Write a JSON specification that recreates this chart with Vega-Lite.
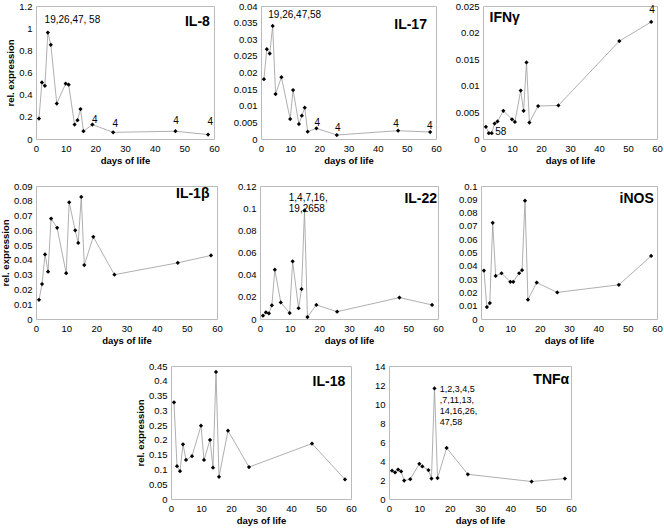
{
  "$schema": "https://vega.github.io/schema/vega-lite/v6.json",
  "background": "white",
  "padding": {"left": 0, "top": 0, "right": 2, "bottom": 2},
  "config": {
    "font": "Liberation Sans",
    "view": {"stroke": "#bbbbbb", "strokeWidth": 1},
    "axis": {"grid": false, "ticks": false, "domain": false, "labelFont": "Liberation Sans", "labelFontSize": 9.5, "labelColor": "black", "labelPadding": 4, "titleFont": "Liberation Sans", "titleFontSize": 9.5, "titleFontWeight": "bold", "titleColor": "black", "titlePadding": 3, "labelFlush": false, "labelOverlap": false}
  },
  "datasets": {
    "expr": [
      {"gene": "IL-8", "day": 1, "value": 0.184}, {"gene": "IL-8", "day": 2, "value": 0.51}, {"gene": "IL-8", "day": 3, "value": 0.48}, {"gene": "IL-8", "day": 4, "value": 0.96}, {"gene": "IL-8", "day": 5, "value": 0.85}, {"gene": "IL-8", "day": 7, "value": 0.32}, {"gene": "IL-8", "day": 10, "value": 0.5}, {"gene": "IL-8", "day": 11, "value": 0.49}, {"gene": "IL-8", "day": 13, "value": 0.13}, {"gene": "IL-8", "day": 14, "value": 0.17}, {"gene": "IL-8", "day": 15, "value": 0.27}, {"gene": "IL-8", "day": 16, "value": 0.07}, {"gene": "IL-8", "day": 19, "value": 0.13}, {"gene": "IL-8", "day": 26, "value": 0.06}, {"gene": "IL-8", "day": 47, "value": 0.07}, {"gene": "IL-8", "day": 58, "value": 0.04},
      {"gene": "IL-17", "day": 1, "value": 0.018}, {"gene": "IL-17", "day": 2, "value": 0.027}, {"gene": "IL-17", "day": 3, "value": 0.0257}, {"gene": "IL-17", "day": 4, "value": 0.034}, {"gene": "IL-17", "day": 5, "value": 0.0135}, {"gene": "IL-17", "day": 7, "value": 0.0186}, {"gene": "IL-17", "day": 10, "value": 0.006}, {"gene": "IL-17", "day": 11, "value": 0.0147}, {"gene": "IL-17", "day": 13, "value": 0.0045}, {"gene": "IL-17", "day": 14, "value": 0.007}, {"gene": "IL-17", "day": 15, "value": 0.0094}, {"gene": "IL-17", "day": 16, "value": 0.0022}, {"gene": "IL-17", "day": 19, "value": 0.0032}, {"gene": "IL-17", "day": 26, "value": 0.0012}, {"gene": "IL-17", "day": 47, "value": 0.0025}, {"gene": "IL-17", "day": 58, "value": 0.0021},
      {"gene": "IFNγ", "day": 1, "value": 0.0023}, {"gene": "IFNγ", "day": 2, "value": 0.0011}, {"gene": "IFNγ", "day": 3, "value": 0.0011}, {"gene": "IFNγ", "day": 4, "value": 0.0029}, {"gene": "IFNγ", "day": 5, "value": 0.0033}, {"gene": "IFNγ", "day": 7, "value": 0.0053}, {"gene": "IFNγ", "day": 10, "value": 0.0037}, {"gene": "IFNγ", "day": 11, "value": 0.0032}, {"gene": "IFNγ", "day": 13, "value": 0.0091}, {"gene": "IFNγ", "day": 14, "value": 0.0053}, {"gene": "IFNγ", "day": 15, "value": 0.0144}, {"gene": "IFNγ", "day": 16, "value": 0.0031}, {"gene": "IFNγ", "day": 19, "value": 0.0062}, {"gene": "IFNγ", "day": 26, "value": 0.0063}, {"gene": "IFNγ", "day": 47, "value": 0.0184}, {"gene": "IFNγ", "day": 58, "value": 0.022},
      {"gene": "IL-1β", "day": 1, "value": 0.013}, {"gene": "IL-1β", "day": 2, "value": 0.0236}, {"gene": "IL-1β", "day": 3, "value": 0.0437}, {"gene": "IL-1β", "day": 4, "value": 0.032}, {"gene": "IL-1β", "day": 5, "value": 0.068}, {"gene": "IL-1β", "day": 7, "value": 0.0617}, {"gene": "IL-1β", "day": 10, "value": 0.031}, {"gene": "IL-1β", "day": 11, "value": 0.079}, {"gene": "IL-1β", "day": 13, "value": 0.06}, {"gene": "IL-1β", "day": 14, "value": 0.0515}, {"gene": "IL-1β", "day": 15, "value": 0.0826}, {"gene": "IL-1β", "day": 16, "value": 0.0365}, {"gene": "IL-1β", "day": 19, "value": 0.0556}, {"gene": "IL-1β", "day": 26, "value": 0.03}, {"gene": "IL-1β", "day": 47, "value": 0.038}, {"gene": "IL-1β", "day": 58, "value": 0.043},
      {"gene": "IL-22", "day": 1, "value": 0.003}, {"gene": "IL-22", "day": 2, "value": 0.006}, {"gene": "IL-22", "day": 3, "value": 0.005}, {"gene": "IL-22", "day": 4, "value": 0.0124}, {"gene": "IL-22", "day": 5, "value": 0.0445}, {"gene": "IL-22", "day": 7, "value": 0.015}, {"gene": "IL-22", "day": 10, "value": 0.0054}, {"gene": "IL-22", "day": 11, "value": 0.052}, {"gene": "IL-22", "day": 13, "value": 0.0097}, {"gene": "IL-22", "day": 14, "value": 0.027}, {"gene": "IL-22", "day": 15, "value": 0.098}, {"gene": "IL-22", "day": 16, "value": 0.0018}, {"gene": "IL-22", "day": 19, "value": 0.0127}, {"gene": "IL-22", "day": 26, "value": 0.0066}, {"gene": "IL-22", "day": 47, "value": 0.0193}, {"gene": "IL-22", "day": 58, "value": 0.0127},
      {"gene": "iNOS", "day": 1, "value": 0.0364}, {"gene": "iNOS", "day": 2, "value": 0.009}, {"gene": "iNOS", "day": 3, "value": 0.012}, {"gene": "iNOS", "day": 4, "value": 0.0723}, {"gene": "iNOS", "day": 5, "value": 0.0324}, {"gene": "iNOS", "day": 7, "value": 0.0344}, {"gene": "iNOS", "day": 10, "value": 0.028}, {"gene": "iNOS", "day": 11, "value": 0.028}, {"gene": "iNOS", "day": 13, "value": 0.0344}, {"gene": "iNOS", "day": 14, "value": 0.0367}, {"gene": "iNOS", "day": 15, "value": 0.089}, {"gene": "iNOS", "day": 16, "value": 0.0145}, {"gene": "iNOS", "day": 19, "value": 0.0274}, {"gene": "iNOS", "day": 26, "value": 0.02}, {"gene": "iNOS", "day": 47, "value": 0.0257}, {"gene": "iNOS", "day": 58, "value": 0.0474},
      {"gene": "IL-18", "day": 1, "value": 0.327}, {"gene": "IL-18", "day": 2, "value": 0.111}, {"gene": "IL-18", "day": 3, "value": 0.094}, {"gene": "IL-18", "day": 4, "value": 0.185}, {"gene": "IL-18", "day": 5, "value": 0.132}, {"gene": "IL-18", "day": 7, "value": 0.145}, {"gene": "IL-18", "day": 10, "value": 0.248}, {"gene": "IL-18", "day": 11, "value": 0.132}, {"gene": "IL-18", "day": 13, "value": 0.2}, {"gene": "IL-18", "day": 14, "value": 0.106}, {"gene": "IL-18", "day": 15, "value": 0.43}, {"gene": "IL-18", "day": 16, "value": 0.075}, {"gene": "IL-18", "day": 19, "value": 0.231}, {"gene": "IL-18", "day": 26, "value": 0.108}, {"gene": "IL-18", "day": 47, "value": 0.1875}, {"gene": "IL-18", "day": 58, "value": 0.066},
      {"gene": "TNFα", "day": 1, "value": 2.98}, {"gene": "TNFα", "day": 2, "value": 2.8}, {"gene": "TNFα", "day": 3, "value": 3.1}, {"gene": "TNFα", "day": 4, "value": 2.9}, {"gene": "TNFα", "day": 5, "value": 1.94}, {"gene": "TNFα", "day": 7, "value": 2.08}, {"gene": "TNFα", "day": 10, "value": 3.7}, {"gene": "TNFα", "day": 11, "value": 3.43}, {"gene": "TNFα", "day": 13, "value": 3.05}, {"gene": "TNFα", "day": 14, "value": 2.15}, {"gene": "TNFα", "day": 15, "value": 11.64}, {"gene": "TNFα", "day": 16, "value": 2.2}, {"gene": "TNFα", "day": 19, "value": 5.37}, {"gene": "TNFα", "day": 26, "value": 2.6}, {"gene": "TNFα", "day": 47, "value": 1.84}, {"gene": "TNFα", "day": 58, "value": 2.15}
    ],
    "notes": [
      {"gene": "IL-8", "day": 2.9, "value": 1.07, "text": "19,26,47, 58"},
      {"gene": "IL-8", "day": 18.9, "value": 0.175, "text": "4"},
      {"gene": "IL-8", "day": 25.8, "value": 0.136, "text": "4"},
      {"gene": "IL-8", "day": 46.3, "value": 0.16, "text": "4"},
      {"gene": "IL-8", "day": 57.8, "value": 0.154, "text": "4"},
      {"gene": "IL-17", "day": 2.5, "value": 0.0372, "text": "19,26,47,58"},
      {"gene": "IL-17", "day": 18.3, "value": 0.0049, "text": "4"},
      {"gene": "IL-17", "day": 25.4, "value": 0.0033, "text": "4"},
      {"gene": "IL-17", "day": 45.3, "value": 0.0046, "text": "4"},
      {"gene": "IL-17", "day": 56.9, "value": 0.004, "text": "4"},
      {"gene": "IFNγ", "day": 4.2, "value": 0.0014, "text": "58"},
      {"gene": "IFNγ", "day": 57.3, "value": 0.0242, "text": "4"},
      {"gene": "IL-22", "day": 9.7, "value": 0.109, "text": "1,4,7,16,\n19,2658"},
      {"gene": "TNFα", "day": 16.7, "value": 11.59, "text": "1,2,3,4,5\n,7,11,13,\n14,16,26,\n47,58"}
    ],
    "labels": [
      {"gene": "IL-8", "day": 58.6, "value": 1.06, "text": "IL-8"},
      {"gene": "IL-17", "day": 56.9, "value": 0.0344, "text": "IL-17"},
      {"gene": "IFNγ", "day": 12.7, "value": 0.0228, "text": "IFNγ"},
      {"gene": "IL-1β", "day": 57.5, "value": 0.0844, "text": "IL-1β"},
      {"gene": "IL-22", "day": 59.7, "value": 0.108, "text": "IL-22"},
      {"gene": "iNOS", "day": 58.9, "value": 0.0905, "text": "iNOS"},
      {"gene": "IL-18", "day": 58.1, "value": 0.395, "text": "IL-18"},
      {"gene": "TNFα", "day": 59.4, "value": 12.5, "text": "TNFα"}
    ]
  },
  "spacing": 14,
  "resolve": {"scale": {"x": "independent", "y": "independent"}},
  "vconcat": [
    {
      "bounds": "flush",
      "spacing": 47,
      "resolve": {"scale": {"x": "independent", "y": "independent"}},
      "hconcat": [
        {
          "width": 178, "height": 133,
          "encoding": {
            "x": {"field": "day", "type": "quantitative", "scale": {"domain": [0, 60]}, "axis": {"values": [0, 10, 20, 30, 40, 50, 60], "title": "days of life"}},
            "y": {"field": "value", "type": "quantitative", "scale": {"domain": [0, 1.2]}, "axis": {"values": [0, 0.2, 0.4, 0.6, 0.8, 1, 1.2], "format": "~f", "title": "rel. expression"}}
          },
          "layer": [
            {"data": {"name": "expr"}, "transform": [{"filter": "datum.gene === 'IL-8'"}], "mark": {"type": "line", "color": "#9a9a9a", "strokeWidth": 0.8}},
            {"data": {"name": "expr"}, "transform": [{"filter": "datum.gene === 'IL-8'"}], "mark": {"type": "point", "shape": "diamond", "filled": true, "color": "black", "size": 18, "opacity": 1}},
            {"data": {"name": "notes"}, "transform": [{"filter": "datum.gene === 'IL-8'"}], "mark": {"type": "text", "align": "left", "baseline": "middle", "fontSize": 10, "lineBreak": "\n", "lineHeight": 11, "color": "black"}, "encoding": {"text": {"field": "text"}}},
            {"data": {"name": "labels"}, "transform": [{"filter": "datum.gene === 'IL-8'"}], "mark": {"type": "text", "align": "right", "baseline": "middle", "fontSize": 14, "fontWeight": "bold", "color": "black"}, "encoding": {"text": {"field": "text"}}}
          ]
        },
        {
          "width": 175, "height": 133,
          "encoding": {
            "x": {"field": "day", "type": "quantitative", "scale": {"domain": [0, 60]}, "axis": {"values": [0, 10, 20, 30, 40, 50, 60], "title": "days of life"}},
            "y": {"field": "value", "type": "quantitative", "scale": {"domain": [0, 0.04]}, "axis": {"values": [0, 0.005, 0.01, 0.015, 0.02, 0.025, 0.03, 0.035, 0.04], "format": "~f", "title": null}}
          },
          "layer": [
            {"data": {"name": "expr"}, "transform": [{"filter": "datum.gene === 'IL-17'"}], "mark": {"type": "line", "color": "#9a9a9a", "strokeWidth": 0.8}},
            {"data": {"name": "expr"}, "transform": [{"filter": "datum.gene === 'IL-17'"}], "mark": {"type": "point", "shape": "diamond", "filled": true, "color": "black", "size": 18, "opacity": 1}},
            {"data": {"name": "notes"}, "transform": [{"filter": "datum.gene === 'IL-17'"}], "mark": {"type": "text", "align": "left", "baseline": "middle", "fontSize": 10, "lineBreak": "\n", "lineHeight": 11, "color": "black"}, "encoding": {"text": {"field": "text"}}},
            {"data": {"name": "labels"}, "transform": [{"filter": "datum.gene === 'IL-17'"}], "mark": {"type": "text", "align": "right", "baseline": "middle", "fontSize": 14, "fontWeight": "bold", "color": "black"}, "encoding": {"text": {"field": "text"}}}
          ]
        },
        {
          "width": 174, "height": 133,
          "encoding": {
            "x": {"field": "day", "type": "quantitative", "scale": {"domain": [0, 60]}, "axis": {"values": [0, 10, 20, 30, 40, 50, 60], "title": "days of life"}},
            "y": {"field": "value", "type": "quantitative", "scale": {"domain": [0, 0.025]}, "axis": {"values": [0, 0.005, 0.01, 0.015, 0.02, 0.025], "format": "~f", "title": null}}
          },
          "layer": [
            {"data": {"name": "expr"}, "transform": [{"filter": "datum.gene === 'IFNγ'"}], "mark": {"type": "line", "color": "#9a9a9a", "strokeWidth": 0.8}},
            {"data": {"name": "expr"}, "transform": [{"filter": "datum.gene === 'IFNγ'"}], "mark": {"type": "point", "shape": "diamond", "filled": true, "color": "black", "size": 18, "opacity": 1}},
            {"data": {"name": "notes"}, "transform": [{"filter": "datum.gene === 'IFNγ'"}], "mark": {"type": "text", "align": "left", "baseline": "middle", "fontSize": 10, "lineBreak": "\n", "lineHeight": 11, "color": "black"}, "encoding": {"text": {"field": "text"}}},
            {"data": {"name": "labels"}, "transform": [{"filter": "datum.gene === 'IFNγ'"}], "mark": {"type": "text", "align": "right", "baseline": "middle", "fontSize": 14, "fontWeight": "bold", "color": "black"}, "encoding": {"text": {"field": "text"}}}
          ]
        }
      ]
    },
    {
      "bounds": "flush",
      "spacing": 43,
      "resolve": {"scale": {"x": "independent", "y": "independent"}},
      "hconcat": [
        {
          "width": 181, "height": 133,
          "encoding": {
            "x": {"field": "day", "type": "quantitative", "scale": {"domain": [0, 60]}, "axis": {"values": [0, 10, 20, 30, 40, 50, 60], "title": "days of life"}},
            "y": {"field": "value", "type": "quantitative", "scale": {"domain": [0, 0.09]}, "axis": {"values": [0, 0.01, 0.02, 0.03, 0.04, 0.05, 0.06, 0.07, 0.08, 0.09], "format": "~f", "title": "rel. expression"}}
          },
          "layer": [
            {"data": {"name": "expr"}, "transform": [{"filter": "datum.gene === 'IL-1β'"}], "mark": {"type": "line", "color": "#9a9a9a", "strokeWidth": 0.8}},
            {"data": {"name": "expr"}, "transform": [{"filter": "datum.gene === 'IL-1β'"}], "mark": {"type": "point", "shape": "diamond", "filled": true, "color": "black", "size": 18, "opacity": 1}},
            {"data": {"name": "labels"}, "transform": [{"filter": "datum.gene === 'IL-1β'"}], "mark": {"type": "text", "align": "right", "baseline": "middle", "fontSize": 14, "fontWeight": "bold", "color": "black"}, "encoding": {"text": {"field": "text"}}}
          ]
        },
        {
          "width": 178, "height": 133,
          "encoding": {
            "x": {"field": "day", "type": "quantitative", "scale": {"domain": [0, 60]}, "axis": {"values": [0, 10, 20, 30, 40, 50, 60], "title": "days of life"}},
            "y": {"field": "value", "type": "quantitative", "scale": {"domain": [0, 0.12]}, "axis": {"values": [0, 0.02, 0.04, 0.06, 0.08, 0.1, 0.12], "format": "~f", "title": null}}
          },
          "layer": [
            {"data": {"name": "expr"}, "transform": [{"filter": "datum.gene === 'IL-22'"}], "mark": {"type": "line", "color": "#9a9a9a", "strokeWidth": 0.8}},
            {"data": {"name": "expr"}, "transform": [{"filter": "datum.gene === 'IL-22'"}], "mark": {"type": "point", "shape": "diamond", "filled": true, "color": "black", "size": 18, "opacity": 1}},
            {"data": {"name": "notes"}, "transform": [{"filter": "datum.gene === 'IL-22'"}], "mark": {"type": "text", "align": "left", "baseline": "middle", "fontSize": 10, "lineBreak": "\n", "lineHeight": 11, "color": "black"}, "encoding": {"text": {"field": "text"}}},
            {"data": {"name": "labels"}, "transform": [{"filter": "datum.gene === 'IL-22'"}], "mark": {"type": "text", "align": "right", "baseline": "middle", "fontSize": 14, "fontWeight": "bold", "color": "black"}, "encoding": {"text": {"field": "text"}}}
          ]
        },
        {
          "width": 176, "height": 133,
          "encoding": {
            "x": {"field": "day", "type": "quantitative", "scale": {"domain": [0, 60]}, "axis": {"values": [0, 10, 20, 30, 40, 50, 60], "title": "days of life"}},
            "y": {"field": "value", "type": "quantitative", "scale": {"domain": [0, 0.1]}, "axis": {"values": [0, 0.01, 0.02, 0.03, 0.04, 0.05, 0.06, 0.07, 0.08, 0.09, 0.1], "format": "~f", "title": null}}
          },
          "layer": [
            {"data": {"name": "expr"}, "transform": [{"filter": "datum.gene === 'iNOS'"}], "mark": {"type": "line", "color": "#9a9a9a", "strokeWidth": 0.8}},
            {"data": {"name": "expr"}, "transform": [{"filter": "datum.gene === 'iNOS'"}], "mark": {"type": "point", "shape": "diamond", "filled": true, "color": "black", "size": 18, "opacity": 1}},
            {"data": {"name": "labels"}, "transform": [{"filter": "datum.gene === 'iNOS'"}], "mark": {"type": "text", "align": "right", "baseline": "middle", "fontSize": 14, "fontWeight": "bold", "color": "black"}, "encoding": {"text": {"field": "text"}}}
          ]
        }
      ]
    },
    {
      "bounds": "flush",
      "spacing": 38,
      "resolve": {"scale": {"x": "independent", "y": "independent"}},
      "hconcat": [
        {
          "width": 97, "height": 133,
          "view": {"stroke": null},
          "data": {"values": [{}]},
          "mark": {"type": "point", "opacity": 0, "size": 0}
        },
        {
          "width": 180, "height": 133,
          "encoding": {
            "x": {"field": "day", "type": "quantitative", "scale": {"domain": [0, 60]}, "axis": {"values": [0, 10, 20, 30, 40, 50, 60], "title": "days of life"}},
            "y": {"field": "value", "type": "quantitative", "scale": {"domain": [0, 0.45]}, "axis": {"values": [0, 0.05, 0.1, 0.15, 0.2, 0.25, 0.3, 0.35, 0.4, 0.45], "format": "~f", "title": "rel. expression"}}
          },
          "layer": [
            {"data": {"name": "expr"}, "transform": [{"filter": "datum.gene === 'IL-18'"}], "mark": {"type": "line", "color": "#9a9a9a", "strokeWidth": 0.8}},
            {"data": {"name": "expr"}, "transform": [{"filter": "datum.gene === 'IL-18'"}], "mark": {"type": "point", "shape": "diamond", "filled": true, "color": "black", "size": 18, "opacity": 1}},
            {"data": {"name": "labels"}, "transform": [{"filter": "datum.gene === 'IL-18'"}], "mark": {"type": "text", "align": "right", "baseline": "middle", "fontSize": 14, "fontWeight": "bold", "color": "black"}, "encoding": {"text": {"field": "text"}}}
          ]
        },
        {
          "width": 182, "height": 133,
          "encoding": {
            "x": {"field": "day", "type": "quantitative", "scale": {"domain": [0, 60]}, "axis": {"values": [0, 10, 20, 30, 40, 50, 60], "title": "days of life"}},
            "y": {"field": "value", "type": "quantitative", "scale": {"domain": [0, 14]}, "axis": {"values": [0, 2, 4, 6, 8, 10, 12, 14], "format": "~f", "title": null}}
          },
          "layer": [
            {"data": {"name": "expr"}, "transform": [{"filter": "datum.gene === 'TNFα'"}], "mark": {"type": "line", "color": "#9a9a9a", "strokeWidth": 0.8}},
            {"data": {"name": "expr"}, "transform": [{"filter": "datum.gene === 'TNFα'"}], "mark": {"type": "point", "shape": "diamond", "filled": true, "color": "black", "size": 18, "opacity": 1}},
            {"data": {"name": "notes"}, "transform": [{"filter": "datum.gene === 'TNFα'"}], "mark": {"type": "text", "align": "left", "baseline": "middle", "fontSize": 9, "lineBreak": "\n", "lineHeight": 11, "color": "black"}, "encoding": {"text": {"field": "text"}}},
            {"data": {"name": "labels"}, "transform": [{"filter": "datum.gene === 'TNFα'"}], "mark": {"type": "text", "align": "right", "baseline": "middle", "fontSize": 14, "fontWeight": "bold", "color": "black"}, "encoding": {"text": {"field": "text"}}}
          ]
        }
      ]
    }
  ]
}
